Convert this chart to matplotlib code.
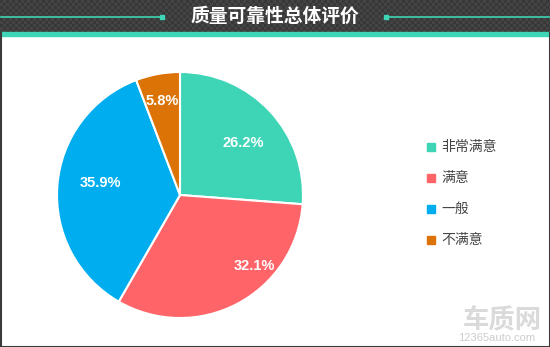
import numpy as np
import matplotlib.pyplot as plt
from matplotlib.patches import Rectangle
from matplotlib.colors import ListedColormap

plt.rcParams['font.family'] = ['Noto Sans CJK SC', 'DejaVu Sans']

title = '质量可靠性总体评价'
labels = ['非常满意', '满意', '一般', '不满意']
values = [26.2, 32.1, 35.9, 5.8]
colors = ['#3dd5b6', '#ff6469', '#00aeef', '#dc7306']
# label positions in picture pixels
label_xy = [(243, 143), (254, 266), (100, 183), (162, 101)]

W, H = 550, 347
fig = plt.figure(figsize=(W / 100, H / 100), dpi=100)
ax = fig.add_axes([0, 0, 1, 1])
ax.set_xlim(0, W)
ax.set_ylim(H, 0)
ax.axis('off')

# header band with checker texture
n = 3
yy, xx = np.mgrid[0:33, 0:W]
chk = ((xx // n + yy // n) % 2).astype(float)
ax.imshow(chk, cmap=ListedColormap(['#383838', '#444444']),
          extent=(0, W, 33, 0), aspect='auto', interpolation='nearest', zorder=0)
ax.add_patch(Rectangle((0, 32), W, 4, color='#3dd5b6', zorder=1))
ax.plot([1, 162], [16.5, 16.5], color='#3dd5b6', lw=1.2, zorder=2)
ax.plot([386, 549], [16.5, 16.5], color='#3dd5b6', lw=1.2, zorder=2)
ax.add_patch(Rectangle((160, 14.5), 4, 4, color='#3dd5b6', zorder=2))
ax.add_patch(Rectangle((384, 14.5), 4, 4, color='#3dd5b6', zorder=2))
ax.text(W / 2, 16, title, color='white', fontsize=13.5, fontweight='bold',
        ha='center', va='center', zorder=3)

# border
ax.plot([0.5, 0.5, W - 0.5, W - 0.5], [33, H - 0.5, H - 0.5, 33],
        color='#3a3a3a', lw=1.5, zorder=5)

# legend
leg_y = [147, 178, 209, 240]
for lab, c, y in zip(labels, colors, leg_y):
    ax.add_patch(Rectangle((427, y - 4), 8, 8, color=c, zorder=6))
    ax.text(441, y, lab, color='#444444', fontsize=10, ha='left', va='center', zorder=6)

# watermark
ax.text(502, 321, '车质网', color='#dadada', fontsize=19, fontweight='bold',
        ha='center', va='center', zorder=4)
ax.text(497, 338, '12365auto.com', color='#cccccc', fontsize=8,
        family=['Liberation Sans', 'DejaVu Sans'], ha='center', va='center', zorder=4)

# pie
pax = fig.add_axes([0, 0, 1, 1])
pax.pie(values, colors=colors, startangle=90, counterclock=False,
        center=(180, H - 195), radius=123, frame=True,
        wedgeprops=dict(edgecolor='white', linewidth=1.5))
pax.set_xlim(0, W)
pax.set_ylim(0, H)
pax.set_aspect('auto')
pax.axis('off')

for v, (x, y) in zip(values, label_xy):
    pax.text(x, H - y, f'{v}%', color='white', fontsize=10.5, fontweight='bold',
             family=['Liberation Sans', 'DejaVu Sans'], ha='center', va='center', zorder=6)

fig.savefig('out.png', dpi=100)
